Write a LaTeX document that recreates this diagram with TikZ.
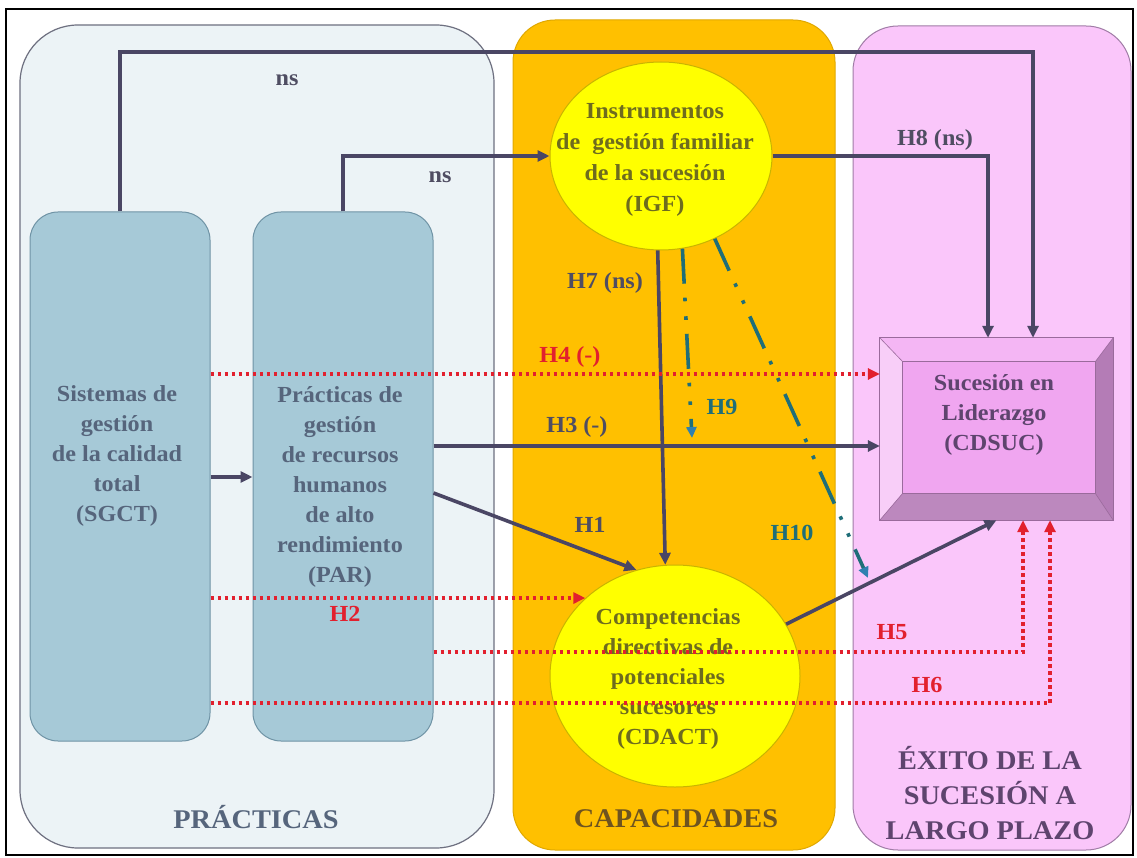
\documentclass[tikz,border=0pt]{standalone}
\usepackage{fontspec}
\setmainfont{Liberation Serif}[FakeStretch=1.05]
\usetikzlibrary{arrows.meta,shapes.geometric,calc}
\definecolor{lineC}{HTML}{4A4664}
\definecolor{redC}{HTML}{E2202E}
\definecolor{tealC}{HTML}{1F6E78}
\definecolor{tealA}{HTML}{2F80B0}
\definecolor{panelL}{HTML}{ECF3F6}
\definecolor{panelLd}{HTML}{6E7080}
\definecolor{orangeP}{HTML}{FFC000}
\definecolor{orangeD}{HTML}{E0A800}
\definecolor{pinkP}{HTML}{FAC6FA}
\definecolor{pinkD}{HTML}{A07CA6}
\definecolor{blueBox}{HTML}{A6C9D7}
\definecolor{blueBoxD}{HTML}{6F93A5}
\definecolor{blueTxt}{HTML}{56657C}
\definecolor{yelE}{HTML}{FFFF00}
\definecolor{yelD}{HTML}{C9B400}
\definecolor{oliveTxt}{HTML}{6E6C1E}
\definecolor{purpTxt}{HTML}{5E446E}
\definecolor{capTxt}{HTML}{6E5420}
\definecolor{labTxt}{HTML}{4F4D62}
\definecolor{bevTop}{HTML}{F4B6F4}
\definecolor{bevLeft}{HTML}{F8CEF8}
\definecolor{bevRight}{HTML}{B47CB6}
\definecolor{bevBot}{HTML}{BC88BE}
\definecolor{bevFace}{HTML}{F0A6F0}
\definecolor{bevLine}{HTML}{9A6A9C}
\begin{document}
\begin{tikzpicture}[x=1pt,y=-1pt,
  every node/.style={font=\bfseries},
  bluebox/.style={draw=blueBoxD, fill=blueBox, rounded corners=28pt, line width=1pt, minimum width=180pt, minimum height=529pt, inner sep=0pt},
  boxtext/.style={text=blueTxt, align=center, font=\fontsize{23}{30}\selectfont\bfseries},
  ell/.style={ellipse, draw=yelD, fill=yelE, line width=1pt, inner sep=0pt},
  elltext/.style={text=oliveTxt, align=center, font=\fontsize{23}{30}\selectfont\bfseries},
  arr/.style={draw=lineC, line width=3.6pt, -{Triangle[length=12pt,width=11pt]}},
  redarr/.style={draw=redC, line width=3.4pt, dash pattern=on 3.4pt off 3.6pt, -{Triangle[length=12pt,width=11pt]}},
  tealarr/.style={draw=tealC, line width=3.6pt, dash pattern=on 35pt off 14pt on 3.6pt off 15pt on 3.6pt off 14pt, -{Triangle[length=11pt,width=10pt,color=tealA]}},
  lab/.style={font=\fontsize{23}{28}\selectfont\bfseries, text=labTxt},
  redlab/.style={lab, text=redC},
  teallab/.style={lab, text=tealC},
  paneltitle/.style={font=\fontsize{27}{35}\selectfont\bfseries, align=center}
]
\useasboundingbox (0,0) rectangle (1137,858);
\fill[white] (0,0) rectangle (1137,858);
\draw[line width=1.5pt] (6,9) rectangle (1133,855);
% panels
\draw[rounded corners=58pt, line width=1.2pt, draw=panelLd, fill=panelL] (20,25) rectangle (494,848);
\draw[rounded corners=42pt, line width=1pt, draw=orangeD, fill=orangeP] (513,20) rectangle (835,850);
\draw[rounded corners=45pt, line width=1pt, draw=pinkD, fill=pinkP] (853,26) rectangle (1131,850);
\node[paneltitle, text=blueTxt] (tprac) at (256,817) {PRÁCTICAS};
\node[paneltitle, text=capTxt] (tcap) at (676,819) {CAPACIDADES};
\node[paneltitle, text=purpTxt] (texito) at (990,793) {ÉXITO DE LA\\SUCESIÓN A\\LARGO PLAZO};
% boxes
\node[bluebox] (sgct) at (120,476.5) {};
\node[bluebox] (par) at (343,476.5) {};
\node[boxtext] (sgctt) at (117,456) {Sistemas de\\gestión\\de la calidad\\total\\(SGCT)};
\node[boxtext] (part) at (340,487) {Prácticas de\\gestión\\de recursos\\humanos\\de alto\\rendimiento\\(PAR)};
% ellipses
\node[ell, minimum width=222pt, minimum height=188pt] (igf) at (661,156) {};
\node[elltext, font=\fontsize{23}{31}\selectfont\bfseries] (igft) at (655,160) {Instrumentos\\de\ \ gestión familiar\\de la sucesión\\(IGF)};
\node[ell, minimum width=250pt, minimum height=222pt] (cdact) at (675,676) {};
\node[elltext] (cdactt) at (668,679) {Competencias\\directivas de\\potenciales\\sucesores\\(CDACT)};
% beveled box
\node[minimum width=233pt, minimum height=182pt, inner sep=0pt] (cdsuc) at (996.5,429) {};
\coordinate (inw) at ($(cdsuc.north west)+(23,24)$);
\coordinate (ine) at ($(cdsuc.north east)+(-18,24)$);
\coordinate (isw) at ($(cdsuc.south west)+(23,-27)$);
\coordinate (ise) at ($(cdsuc.south east)+(-18,-27)$);
\fill[bevTop] (cdsuc.north west) -- (cdsuc.north east) -- (ine) -- (inw) -- cycle;
\fill[bevLeft] (cdsuc.north west) -- (inw) -- (isw) -- (cdsuc.south west) -- cycle;
\fill[bevRight] (cdsuc.north east) -- (ine) -- (ise) -- (cdsuc.south east) -- cycle;
\fill[bevBot] (cdsuc.south west) -- (isw) -- (ise) -- (cdsuc.south east) -- cycle;
\fill[bevFace] (inw) rectangle (ise);
\draw[bevLine, line width=0.8pt] (cdsuc.north west) rectangle (cdsuc.south east);
\draw[bevLine, line width=0.8pt] (inw) rectangle (ise);
\draw[bevLine, line width=0.6pt] (cdsuc.north west) -- (inw) (cdsuc.north east) -- (ine) (cdsuc.south west) -- (isw) (cdsuc.south east) -- (ise);
\node[align=center, text=purpTxt, font=\fontsize{23}{30}\selectfont\bfseries] (cdsuct) at (994,415) {Sucesión en\\Liderazgo\\(CDSUC)};
% connectors
\coordinate (c1) at (1033,52);
\draw[arr] (sgct.north) |- (c1) -- (c1 |- cdsuc.north);
\draw[arr] (par.north) |- (igf.west);
\coordinate (c8) at (988,0);
\draw[arr] (igf.east) -| (c8 |- cdsuc.north);
\coordinate (ya) at (0,477);
\draw[arr] (sgct.east |- ya) -- (par.west |- ya);
\coordinate (y3) at (0,446);
\draw[arr] (par.east |- y3) -- (cdsuc.west |- y3);
\coordinate (y1) at (0,493);
\draw[arr] (par.east |- y1) -- (cdact.110);
\draw[arr] (igf.-92) -- (cdact.95);
\draw[arr] (cdact.25) -- (cdsuc.south);
\coordinate (y4) at (0,374);
\draw[redarr] (sgct.east |- y4) -- (cdsuc.west |- y4);
\draw[redarr] (sgct.east |- cdact.139) -- (cdact.139);
\coordinate (y5) at (0,652);
\coordinate (x5) at (1023,0);
\draw[redarr] (par.east |- y5) -| (x5 |- cdsuc.south);
\coordinate (y6) at (0,703);
\coordinate (x6) at (1050,0);
\draw[redarr] (sgct.east |- y6) -| (x6 |- cdsuc.south);
\coordinate (e9) at (692,438);
\draw[tealarr] (igf.-77) -- (e9);
\coordinate (e10) at (868,578);
\draw[tealarr] (igf.-57) -- (e10);
% labels
\node[lab] (lns1) at (287,80) {ns};
\node[lab] (lns2) at (440,177) {ns};
\node[lab] (lh8) at (935,140) {H8 (ns)};
\node[redlab] (lh4) at (570,357) {H4 (-)};
\node[lab] (lh3) at (577,427) {H3 (-)};
\node[lab] (lh1) at (590,525) {H1};
\node[redlab] (lh2) at (345,614) {H2};
\node[redlab] (lh5) at (892,632) {H5};
\node[redlab] (lh6) at (927,685) {H6};
\node[lab] (lh7) at (605,283) {H7 (ns)};
\node[teallab] (lh9) at (722,407) {H9};
\node[teallab] (lh10) at (792,533) {H10};
\end{tikzpicture}
\end{document}
